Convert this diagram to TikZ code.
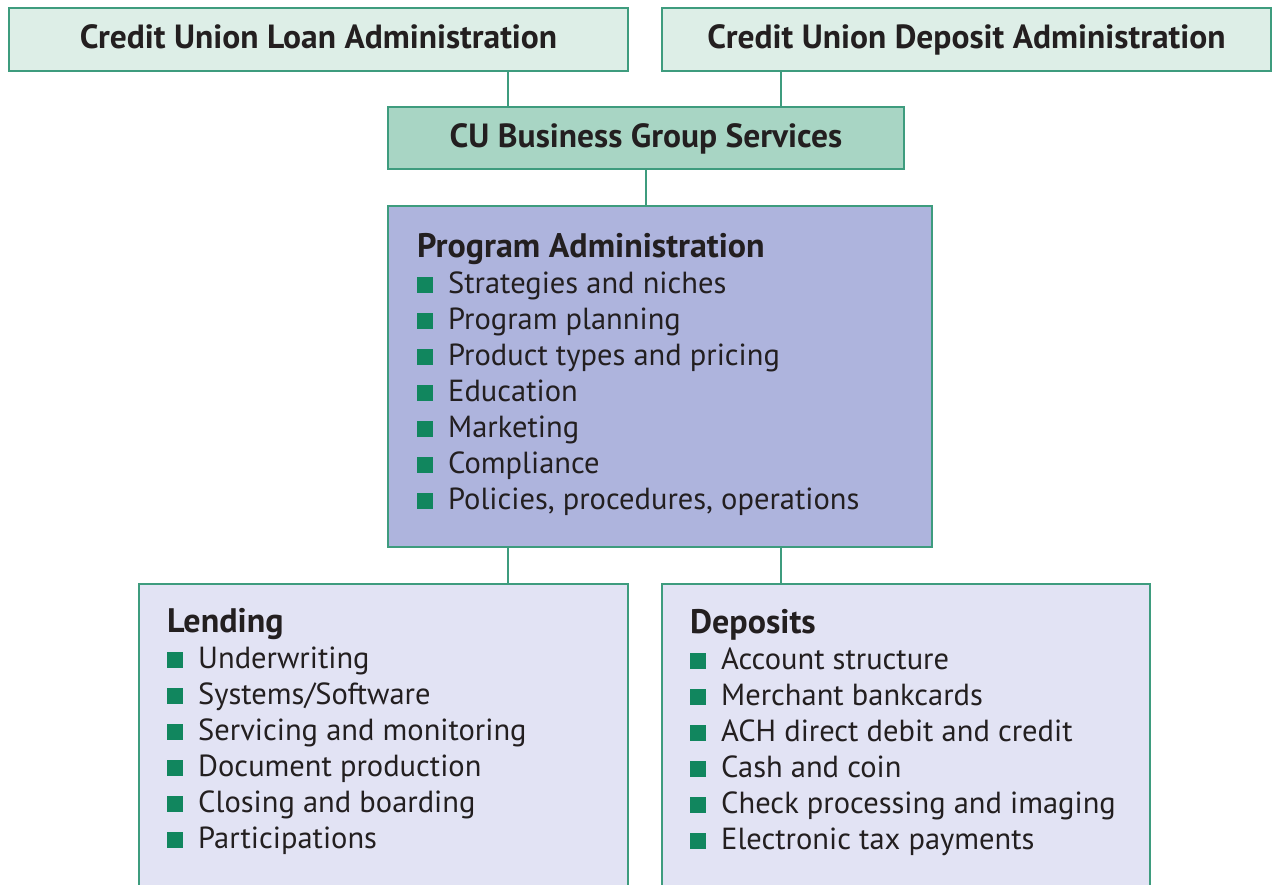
\documentclass[tikz,border=0pt]{standalone}
\usepackage{fontspec}
\setmainfont{PT Sans}
\usetikzlibrary{positioning}
\definecolor{edgegreen}{HTML}{3E9C7E}
\definecolor{bulgreen}{HTML}{11865E}
\definecolor{topfill}{HTML}{DDEEE7}
\definecolor{cufill}{HTML}{A8D5C4}
\definecolor{progfill}{HTML}{AEB4DD}
\definecolor{subfill}{HTML}{E2E3F4}
\definecolor{inkgray}{HTML}{231F20}
% square bullet in front of each entry
\newcommand{\itm}{\textcolor{bulgreen}{\rule{16pt}{16pt}}\hspace{15pt}}
% bold heading of a list
\newcommand{\hd}[1]{{\fontsize{34}{36}\selectfont\bfseries #1}}
\tikzset{
  box_n/.style = {rectangle, draw=edgegreen, line width=2pt, anchor=north west,
    inner sep=0pt, text=inkgray, text height=24pt, text depth=6pt,
    font=\fontsize{33.5}{40}\selectfont\bfseries},
  top_n/.style = {box_n, fill=topfill},
  cu_n/.style = {box_n, fill=cufill},
  prog_n/.style = {box_n, fill=progfill},
  sub_n/.style = {box_n, fill=subfill},
  list_n/.style = {anchor=base west, inner sep=0pt, align=left, text=inkgray,
    font=\fontsize{30.5}{36}\selectfont},
  conn/.style = {draw=edgegreen, line width=2pt}}

\begin{document}
\begin{tikzpicture}[x=1pt,y=-1pt]
\useasboundingbox (0,0) rectangle (1276,884);
\clip (0,0) rectangle (1276,884);

% top row
\node [top_n, minimum width=619, minimum height=63] (loan) at (8,7)
  {Credit Union Loan Administration};
\node [top_n, minimum width=609, minimum height=63] (depadm) at (661,7)
  {Credit Union Deposit Administration};
\node [cu_n, minimum width=516, minimum height=62] (cu) at (387,106)
  {CU Business Group Services};

% middle and bottom boxes
\node [prog_n, minimum width=544, minimum height=341] (prog) at (387,205) {};
\node [sub_n, minimum width=489, minimum height=330] (lend) at (138,583) {};
\node [sub_n, minimum width=488, minimum height=330] (dep) at (661,583) {};

% lists, placed by the baseline of their last line
\node [list_n] (prog_txt) at (417,509) {\hd{Program Administration}\\
  \itm Strategies and niches\\ \itm Program planning\\
  \itm Product types and pricing\\ \itm Education\\ \itm Marketing\\
  \itm Compliance\\ \itm Policies, procedures, operations};
\node [list_n] (lend_txt) at (167,848) {\hd{Lending}\\
  \itm Underwriting\\ \itm Systems/Software\\ \itm Servicing and monitoring\\
  \itm Document production\\ \itm Closing and boarding\\ \itm Participations};
\node [list_n] (dep_txt) at (690,849) {\hd{Deposits}\\
  \itm Account structure\\ \itm Merchant bankcards\\
  \itm ACH direct debit and credit\\ \itm Cash and coin\\
  \itm Check processing and imaging\\ \itm Electronic tax payments};

% connectors
\path (loan.south east) ++(-121,0) coordinate (c_l);
\path (depadm.south west) ++(120,0) coordinate (c_r);
\draw [conn] (c_l) -- (c_l |- cu.north);
\draw [conn] (c_r) -- (c_r |- cu.north);
\draw [conn] (cu.south) -- (cu.south |- prog.north);
\draw [conn] (c_l |- prog.south) -- (c_l |- lend.north);
\draw [conn] (c_r |- prog.south) -- (c_r |- dep.north);
\end{tikzpicture}
\end{document}
